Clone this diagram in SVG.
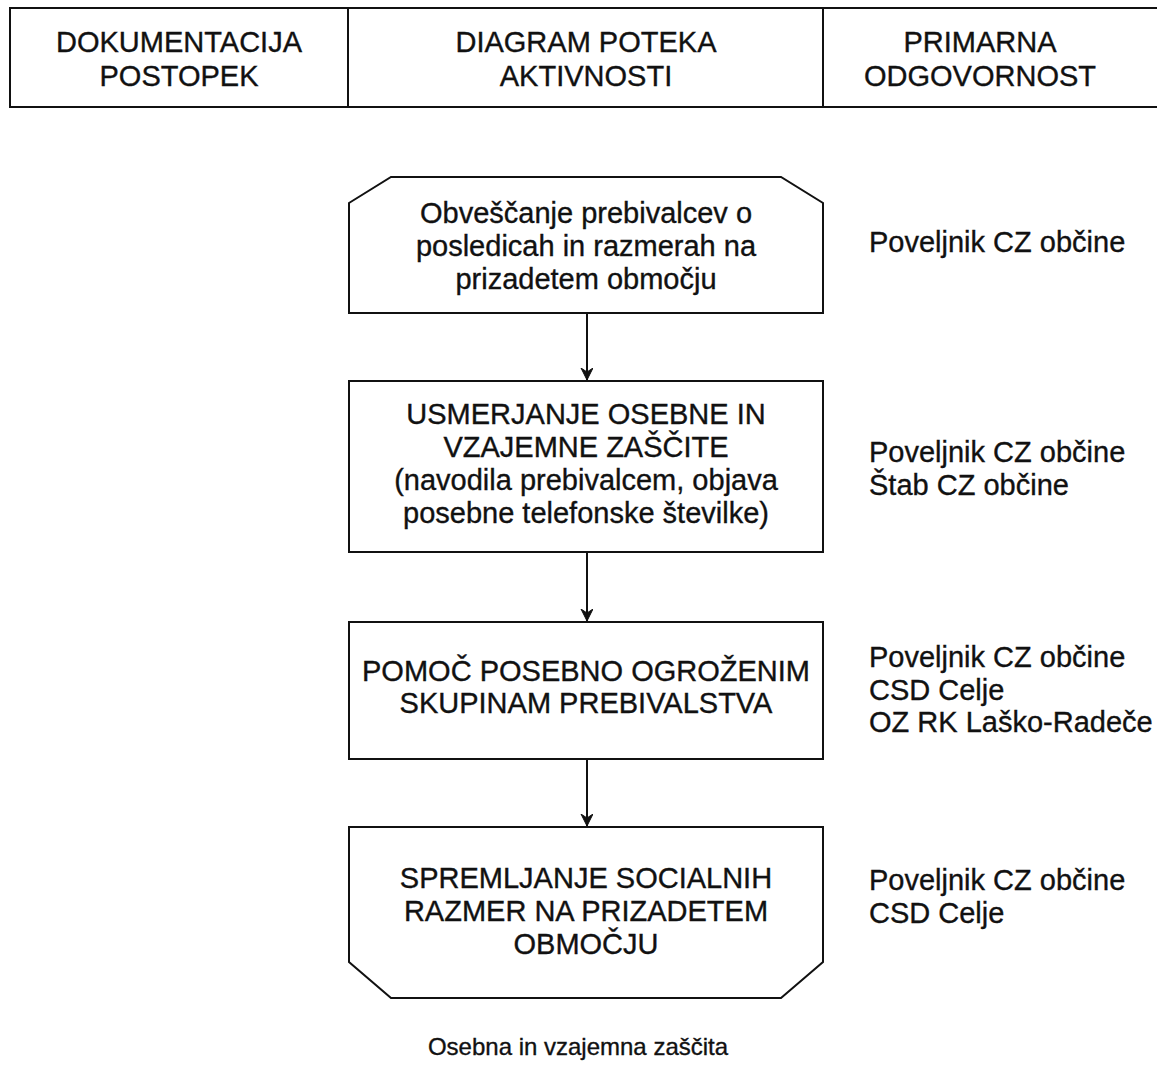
<svg xmlns="http://www.w3.org/2000/svg" width="1157" height="1065" viewBox="0 0 1157 1065">
<style>
text{font-family:"Liberation Sans",Arial,sans-serif;fill:#111;font-size:29px;stroke:#111;stroke-width:0.35}
.c{text-anchor:middle}
.s{fill:#fff;stroke:#111;stroke-width:2}
.ln{stroke:#111;stroke-width:2;fill:none}
</style>
<defs>
<marker id="ah" markerWidth="14" markerHeight="14" refX="12" refY="6" orient="auto" markerUnits="userSpaceOnUse">
<path d="M0,0 L12,6 L0,12 L4,6 z" fill="#111" stroke="#111" stroke-width="1"/>
</marker>
</defs>
<rect width="1157" height="1065" fill="#fff"/>
<g id="header">
<rect class="s" x="10" y="8" width="1160" height="99"/>
<line class="ln" x1="348" y1="8" x2="348" y2="107"/>
<line class="ln" x1="823" y1="8" x2="823" y2="107"/>
<text class="c" x="179" y="52">DOKUMENTACIJA</text>
<text class="c" x="179" y="86">POSTOPEK</text>
<text class="c" x="586" y="52">DIAGRAM POTEKA</text>
<text class="c" x="586" y="86">AKTIVNOSTI</text>
<text class="c" x="980" y="52">PRIMARNA</text>
<text class="c" x="980" y="86">ODGOVORNOST</text>
</g>
<g id="connectors">
<line class="ln" x1="587" y1="313" x2="587" y2="380" marker-end="url(#ah)"/>
<line class="ln" x1="587" y1="552" x2="587" y2="621" marker-end="url(#ah)"/>
<line class="ln" x1="587" y1="759" x2="587" y2="826" marker-end="url(#ah)"/>
</g>
<g id="node1">
<polygon class="s" points="349,203 391,177 781,177 823,203 823,313 349,313"/>
<text class="c" x="586" y="223">Obveščanje prebivalcev o</text>
<text class="c" x="586" y="256">posledicah in razmerah na</text>
<text class="c" x="586" y="289">prizadetem območju</text>
</g>
<g id="node2">
<rect class="s" x="349" y="381" width="474" height="171"/>
<text class="c" x="586" y="424">USMERJANJE OSEBNE IN</text>
<text class="c" x="586" y="457">VZAJEMNE ZAŠČITE</text>
<text class="c" x="586" y="490">(navodila prebivalcem, objava</text>
<text class="c" x="586" y="523">posebne telefonske številke)</text>
</g>
<g id="node3">
<rect class="s" x="349" y="622" width="474" height="137"/>
<text class="c" x="586" y="681">POMOČ POSEBNO OGROŽENIM</text>
<text class="c" x="586" y="713">SKUPINAM PREBIVALSTVA</text>
</g>
<g id="node4">
<polygon class="s" points="349,827 823,827 823,962 781,998 391,998 349,962"/>
<text class="c" x="586" y="888">SPREMLJANJE SOCIALNIH</text>
<text class="c" x="586" y="921">RAZMER NA PRIZADETEM</text>
<text class="c" x="586" y="954">OBMOČJU</text>
</g>
<g id="resp">
<text x="869" y="252">Poveljnik CZ občine</text>
<text x="869" y="462">Poveljnik CZ občine</text>
<text x="869" y="495">Štab CZ občine</text>
<text x="869" y="667">Poveljnik CZ občine</text>
<text x="869" y="700">CSD Celje</text>
<text x="869" y="732">OZ RK Laško-Radeče</text>
<text x="869" y="890">Poveljnik CZ občine</text>
<text x="869" y="923">CSD Celje</text>
</g>
<text class="c" x="578" y="1055" style="font-size:24px">Osebna in vzajemna zaščita</text>
</svg>
